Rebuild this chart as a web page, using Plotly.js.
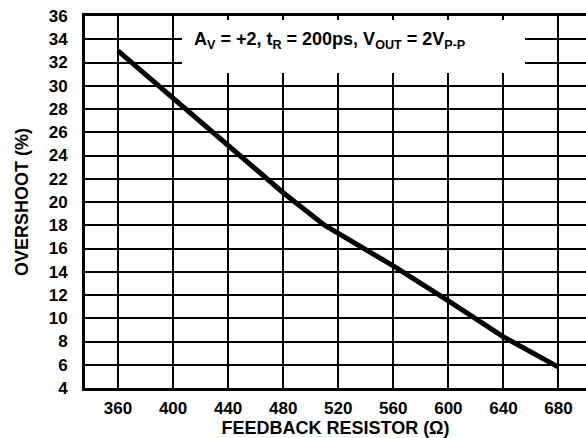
<!DOCTYPE html>
<html>
<head>
<meta charset="utf-8">
<script src="https://cdn.plot.ly/plotly-3.0.1.min.js"></script>
<style>html,body{margin:0;padding:0;background:#fff;}#chart{width:586px;height:438px;}</style>
</head>
<body>
<div id="chart"></div>
<script>
// Data
const resistance = [360, 400, 440, 480, 510, 560, 600, 640, 680];
const overshoot  = [33.0, 28.9, 24.8, 20.8, 18.0, 14.5, 11.5, 8.4, 5.8];
const xTicks = [360, 400, 440, 480, 520, 560, 600, 640, 680];
const yTicks = [4, 6, 8, 10, 12, 14, 16, 18, 20, 22, 24, 26, 28, 30, 32, 34, 36];
const xTitle = 'FEEDBACK RESISTOR (Ω)';
const yTitle = 'OVERSHOOT (%)';
const noteText = 'A<sub>V</sub> = +2, t<sub>R</sub> = 200ps, V<sub>OUT</sub> = 2V<sub>P-P</sub>';

const FAMILY = 'Liberation Sans, Arial, sans-serif';
const TICKFONT = {family: FAMILY, size: 17, color: '#000', weight: 'bold'};
const TITLEFONT = {family: FAMILY, size: 18, color: '#000', weight: 'bold'};

const trace = {
  x: resistance, y: overshoot, type: 'scatter', mode: 'lines',
  line: {color: '#000', width: 5}, hoverinfo: 'skip', showlegend: false
};

const layout = {
  width: 586, height: 438,
  margin: {l: 85, r: 0, t: 16, b: 50},
  paper_bgcolor: '#fff', plot_bgcolor: '#fff',
  font: TICKFONT,
  showlegend: false,
  xaxis: {
    range: [336, 700], tickmode: 'array', tickvals: xTicks, ticktext: xTicks.map(String),
    showgrid: true, gridcolor: '#000000', gridwidth: 2,
    showline: true, linecolor: '#000', linewidth: 3, mirror: true,
    ticks: 'outside', ticklen: 3, tickcolor: 'rgba(0,0,0,0)', zeroline: false,
    tickfont: TICKFONT,
    title: {text: xTitle, font: TITLEFONT, standoff: 6}
  },
  yaxis: {
    range: [4, 36], tickmode: 'array', tickvals: yTicks, ticktext: yTicks.map(String),
    showgrid: true, gridcolor: '#000000', gridwidth: 2,
    showline: true, linecolor: '#000', linewidth: 3, mirror: false,
    ticks: 'outside', ticklen: 11, tickcolor: 'rgba(0,0,0,0)', zeroline: false,
    tickfont: TICKFONT,
    title: {text: yTitle, font: TITLEFONT, standoff: 16}
  },
  shapes: [{
    type: 'rect', xref: 'x', yref: 'y',
    x0: 406.5, x1: 655.7, y0: 31.1, y1: 35.66,
    fillcolor: '#fff', line: {width: 0}, layer: 'between'
  }],
  annotations: [{
    xref: 'x', yref: 'y', x: 514, y: 33.9,
    text: noteText, showarrow: false, font: TITLEFONT,
    xanchor: 'center', yanchor: 'middle'
  }]
};

Plotly.newPlot('chart', [trace], layout, {staticPlot: true, displayModeBar: false});
</script>
</body>
</html>
